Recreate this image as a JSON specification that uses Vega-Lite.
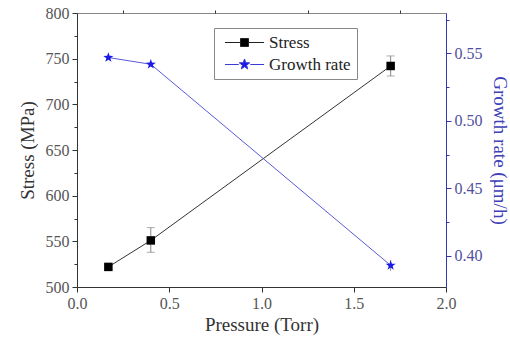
{
  "$schema": "https://vega.github.io/schema/vega-lite/v6.json",
  "width": 369,
  "height": 274,
  "autosize": {"type": "none"},
  "padding": {"left": 77, "top": 13, "right": 64, "bottom": 54},
  "background": "white",
  "config": {
    "view": {"stroke": "#888", "strokeWidth": 1},
    "font": "Liberation Serif",
    "axis": {"labelFont": "Liberation Serif", "titleFont": "Liberation Serif", "labelFontSize": 16, "titleFontSize": 19, "titleFontWeight": "normal", "grid": false}
  },
  "datasets": {
    "stress": [
      {"series": "Stress", "pressure": 0.17, "value": 522, "low": 520, "high": 524},
      {"series": "Stress", "pressure": 0.40, "value": 551, "low": 538, "high": 565},
      {"series": "Stress", "pressure": 1.70, "value": 742, "low": 731, "high": 753}
    ],
    "growth": [
      {"series": "Growth rate", "pressure": 0.17, "value": 0.547, "low": 0.546, "high": 0.548},
      {"series": "Growth rate", "pressure": 0.40, "value": 0.542, "low": 0.541, "high": 0.543},
      {"series": "Growth rate", "pressure": 1.70, "value": 0.393, "low": 0.389, "high": 0.397}
    ]
  },
  "layer": [
    {
      "data": {"name": "stress"},
      "encoding": {
        "x": {
          "field": "pressure", "type": "quantitative",
          "scale": {"domain": [0, 2], "nice": false, "zero": false},
          "axis": {
            "title": "Pressure (Torr)",
            "values": [0, 0.5, 1, 1.5, 2],
            "format": ".1f",
            "tickSize": 5,
            "domainColor": "#333", "tickColor": "#333", "labelColor": "#555", "titleColor": "#333",
            "labelPadding": 3, "titlePadding": 4, "labelFlush": false
          }
        }
      },
      "layer": [
        {
          "encoding": {
            "y": {
              "field": "value", "type": "quantitative",
              "scale": {"domain": [500, 800], "nice": false, "zero": false},
              "axis": {
                "title": "Stress (MPa)", "orient": "left",
                "values": [500, 550, 600, 650, 700, 750, 800],
                "format": "d",
                "tickSize": 5,
                "domainColor": "#333", "tickColor": "#333", "labelColor": "#555", "titleColor": "#333",
                "labelPadding": 3, "titlePadding": 8, "labelFlush": false
              }
            }
          },
          "layer": [
            {
              "mark": {"type": "line", "color": "#333", "strokeWidth": 1}
            },
            {
              "mark": {"type": "rule", "color": "#888", "strokeWidth": 1},
              "encoding": {"y": {"field": "low", "type": "quantitative"}, "y2": {"field": "high"}}
            },
            {
              "mark": {"type": "tick", "color": "#888", "size": 8, "thickness": 1, "orient": "horizontal"},
              "encoding": {"y": {"field": "low", "type": "quantitative"}}
            },
            {
              "mark": {"type": "tick", "color": "#888", "size": 8, "thickness": 1, "orient": "horizontal"},
              "encoding": {"y": {"field": "high", "type": "quantitative"}}
            },
            {
              "mark": {"type": "point", "shape": "square", "filled": true, "color": "#000", "size": 72, "opacity": 1}
            },
            {
              "mark": {"type": "point", "filled": true, "opacity": 0},
              "encoding": {
                "fill": {"field": "series", "type": "nominal", "scale": {"domain": ["Stress", "Growth rate"], "range": ["#000000", "#1a1ae6"]},
                  "legend": {"title": null, "orient": "none", "legendX": 137, "legendY": 15, "strokeColor": "#888", "padding": 6, "labelFont": "Liberation Serif", "labelFontSize": 17, "labelColor": "#222", "symbolSize": 256, "symbolStrokeWidth": 1, "symbolOffset": 16, "rowPadding": 4, "labelOffset": 16,
                    "encode": {"symbols": {"update": {
                      "fill": {"signal": "datum.value === 'Stress' ? '#000000' : '#1a1ae6'"},
                      "stroke": {"signal": "datum.value === 'Stress' ? '#222222' : '#3a3ad8'"},
                      "opacity": {"value": 1}
                    }}}}},
                "stroke": {"field": "series", "type": "nominal", "scale": {"domain": ["Stress", "Growth rate"], "range": ["#222222", "#3a3ad8"]}},
                "shape": {"field": "series", "type": "nominal", "scale": {"domain": ["Stress", "Growth rate"], "range": [
                  "M-2.44,0L-0.55,0M0.55,0L2.44,0M-0.5,-0.5L0.5,-0.5L0.5,0.5L-0.5,0.5Z",
                  "M-2.44,0L-0.72,0M0.72,0L2.44,0M0,-0.69L0.1622,-0.2233L0.6563,-0.2132L0.2625,0.0853L0.4056,0.5582L0,0.276L-0.4056,0.5582L-0.2625,0.0853L-0.6563,-0.2132L-0.1622,-0.2233Z"
                ]}}
              }
            }
          ]
        },
        {
          "mark": {"type": "point", "opacity": 0},
          "encoding": {
            "y": {
              "field": "value", "type": "quantitative",
              "axis": {"orient": "left", "values": [525, 575, 625, 675, 725, 775], "labels": false, "domain": false, "title": null, "tickSize": 3, "tickColor": "#333"}
            }
          }
        }
      ],
      "resolve": {"axis": {"y": "independent"}}
    },
    {
      "data": {"name": "growth"},
      "encoding": {
        "x": {
          "field": "pressure", "type": "quantitative",
          "axis": {"values": [0.25, 0.75, 1.25, 1.75], "labels": false, "domain": false, "title": null, "tickSize": 3, "tickColor": "#333"}
        }
      },
      "layer": [
        {
          "encoding": {
            "y": {
              "field": "value", "type": "quantitative",
              "scale": {"domain": [0.377, 0.58], "nice": false, "zero": false},
              "axis": {
                "title": "Growth rate (μm/h)", "orient": "right",
                "values": [0.4, 0.45, 0.5, 0.55],
                "format": ".2f",
                "tickSize": 5,
                "domainColor": "#3535b0", "tickColor": "#3535b0", "labelColor": "#5050a0", "titleColor": "#4040b8",
                "labelPadding": 3, "titlePadding": 7, "labelFlush": false
              }
            }
          },
          "layer": [
            {
              "mark": {"type": "line", "color": "#5a5ad8", "strokeWidth": 1}
            },
            {
              "mark": {"type": "rule", "color": "#888", "strokeWidth": 1},
              "encoding": {"y": {"field": "low", "type": "quantitative"}, "y2": {"field": "high"}}
            },
            {
              "mark": {"type": "point", "shape": "M0,-1L0.2351,-0.3236L0.9511,-0.309L0.3804,0.1236L0.5878,0.809L0,0.4L-0.5878,0.809L-0.3804,0.1236L-0.9511,-0.309L-0.2351,-0.3236Z", "filled": true, "color": "#1a1ae6", "size": 110, "opacity": 1}
            }
          ]
        },
        {
          "mark": {"type": "point", "opacity": 0},
          "encoding": {
            "y": {
              "field": "value", "type": "quantitative",
              "axis": {"orient": "right", "values": [0.425, 0.475, 0.525, 0.575], "labels": false, "domain": false, "title": null, "tickSize": 3, "tickColor": "#3535b0"}
            }
          }
        }
      ],
      "resolve": {"axis": {"y": "independent"}}
    }
  ],
  "resolve": {"scale": {"y": "independent"}, "axis": {"x": "independent"}}
}
